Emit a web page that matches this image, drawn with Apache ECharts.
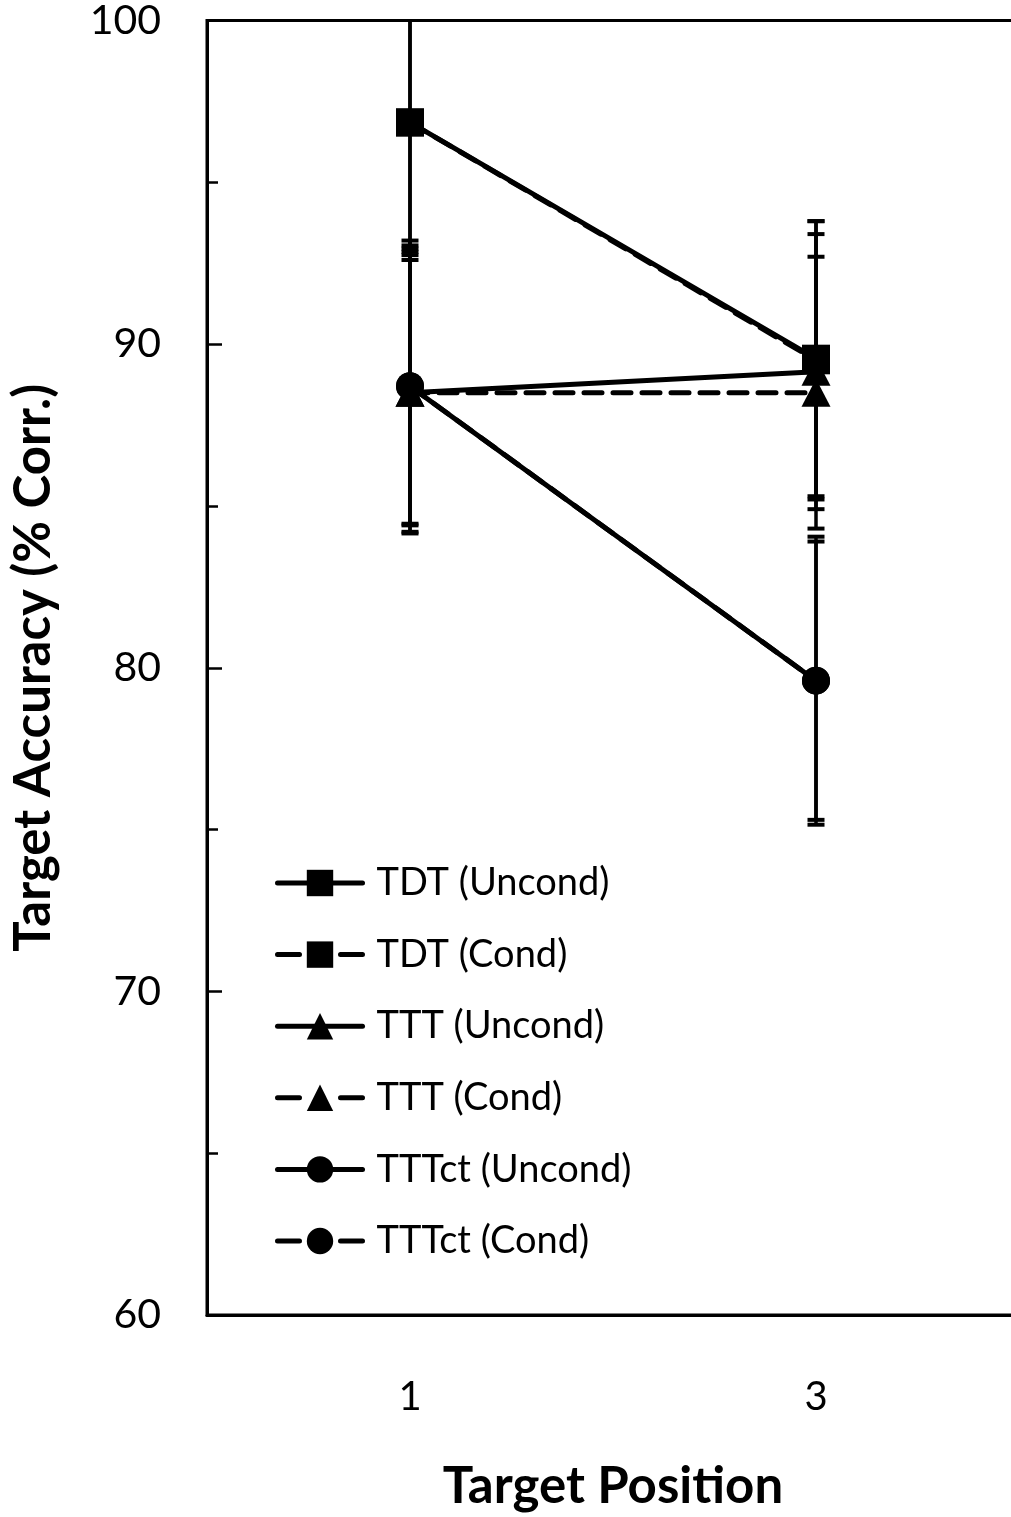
<!DOCTYPE html>
<html>
<head>
<meta charset="utf-8">
<script src="https://cdn.jsdelivr.net/npm/echarts@6/dist/echarts.min.js"></script>
<style>
html,body{margin:0;padding:0;background:#fff;overflow:hidden;width:1011px;height:1517px;}
#chart{width:1019px;height:1517px;}
</style>
</head>
<body>
<div id="chart"></div>
<script>
// ---- data ----
var categories = ['1', '3'];
var seriesNames = ['TDT (Uncond)', 'TDT (Cond)', 'TTT (Uncond)', 'TTT (Cond)', 'TTTct (Uncond)', 'TTTct (Cond)'];
var tdtUncond = [96.85, 89.55];
var tdtCond = [96.85, 89.5];
var tttUncond = [88.5, 89.15];
var tttCond = [88.5, 88.5];
var tttctUncond = [88.7, 79.6];
var tttctCond = [88.7, 79.6];
// symmetric error bar half-widths
var tdtUncondErr = [3.8, 4.25];
var tdtCondErr = [4.1, 4.3];
var tttUncondErr = [4.1, 4.25];
var tttCondErr = [4.35, 4.2];
var tttctUncondErr = [4.25, 4.3];
var tttctCondErr = [4.5, 4.45];
var yTicks = [60, 70, 80, 90, 100];

var values = [tdtUncond, tdtCond, tttUncond, tttCond, tttctUncond, tttctCond];
var errors = [tdtUncondErr, tdtCondErr, tttUncondErr, tttCondErr, tttctUncondErr, tttctCondErr];
var symbols = ['rect', 'rect', 'triangle', 'triangle', 'circle', 'circle'];
var dashed = [false, true, false, true, false, true];

var FONT = 'Lato';
var chart = echarts.init(document.getElementById('chart'), null, {renderer: 'canvas'});

var errData = [];
values.forEach(function (vals, s) {
  vals.forEach(function (v, i) {
    errData.push([i, v - errors[s][i], v + errors[s][i]]);
  });
});

var series = [{
  type: 'custom',
  name: 'err',
  z: 1,
  silent: true,
  encode: {x: 0, y: [1, 2]},
  data: errData,
  renderItem: function (params, api) {
    var idx = api.value(0);
    var lo = api.coord([idx, api.value(1)]);
    var hi = api.coord([idx, api.value(2)]);
    var cs = params.coordSys;
    var top = cs.y, bottom = cs.y + cs.height;
    var x = lo[0];
    var y1 = Math.max(hi[1], top), y2 = Math.min(lo[1], bottom);
    var style = {stroke: '#000', lineWidth: 3.5};
    var children = [{type: 'line', shape: {x1: x, y1: y1, x2: x, y2: y2}, style: style}];
    var hw = 8.5;
    if (hi[1] >= top) children.push({type: 'line', shape: {x1: x - hw, y1: hi[1], x2: x + hw, y2: hi[1]}, style: {stroke: '#000', lineWidth: 4}});
    if (lo[1] <= bottom) children.push({type: 'line', shape: {x1: x - hw, y1: lo[1], x2: x + hw, y2: lo[1]}, style: {stroke: '#000', lineWidth: 4}});
    return {type: 'group', children: children};
  }
}];

seriesNames.forEach(function (name, s) {
  series.push({
    type: 'line',
    name: name,
    z: 3,
    data: values[s],
    symbol: symbols[s],
    symbolSize: symbols[s] === 'triangle' ? [29, 28] : 28,
    showSymbol: true,
    animation: false,
    lineStyle: {color: '#000', width: 5, type: dashed[s] ? [18, 11] : 'solid', cap: 'round'},
    itemStyle: {color: '#000', borderWidth: 0}
  });
});

var legendData = seriesNames.map(function (name, s) {
  return {
    name: name,
    lineStyle: {color: '#000', width: 5, type: dashed[s] ? [22, 41] : 'solid', cap: 'round'}
  };
});

chart.setOption({
  animation: false,
  backgroundColor: '#fff',
  grid: {left: 207, top: 20, right: 0, bottom: 202, show: true, borderColor: '#000', borderWidth: 3, containLabel: false},
  legend: {
    orient: 'vertical',
    left: 270,
    top: 858,
    itemWidth: 85,
    itemHeight: 33,
    itemGap: 31.6,
    data: legendData,
    selectedMode: false,
    textStyle: {fontFamily: FONT, fontSize: 38, color: '#000', lineHeight: 40, padding: [0, 0, 0, 9]}
  },
  xAxis: {
    type: 'category',
    data: categories,
    boundaryGap: true,
    name: 'Target Position',
    nameLocation: 'middle',
    nameGap: 146,
    nameTextStyle: {fontFamily: FONT, fontWeight: 'bold', fontSize: 51, color: '#000'},
    axisLine: {lineStyle: {color: '#000', width: 3}},
    axisTick: {inside: true, alignWithLabel: true, length: 11, lineStyle: {color: '#000', width: 2.5}},
    axisLabel: {fontFamily: FONT, fontSize: 40, color: '#000', margin: 62},
    splitLine: {show: false}
  },
  yAxis: {
    type: 'value',
    min: yTicks[0],
    max: yTicks[yTicks.length - 1],
    interval: 10,
    name: 'Target Accuracy (% Corr.)',
    nameLocation: 'middle',
    nameGap: 148,
    nameTextStyle: {fontFamily: FONT, fontWeight: 'bold', fontSize: 51, color: '#000'},
    axisLine: {show: true, lineStyle: {color: '#000', width: 3}},
    axisTick: {show: true, inside: true, length: 15, lineStyle: {color: '#000', width: 2.5}},
    minorTick: {show: true, splitNumber: 2, length: 11, lineStyle: {color: '#000', width: 2.5}},
    axisLabel: {fontFamily: FONT, fontSize: 41, color: '#000', margin: 46},
    splitLine: {show: false}
  },
  series: series
});
</script>
</body>
</html>
